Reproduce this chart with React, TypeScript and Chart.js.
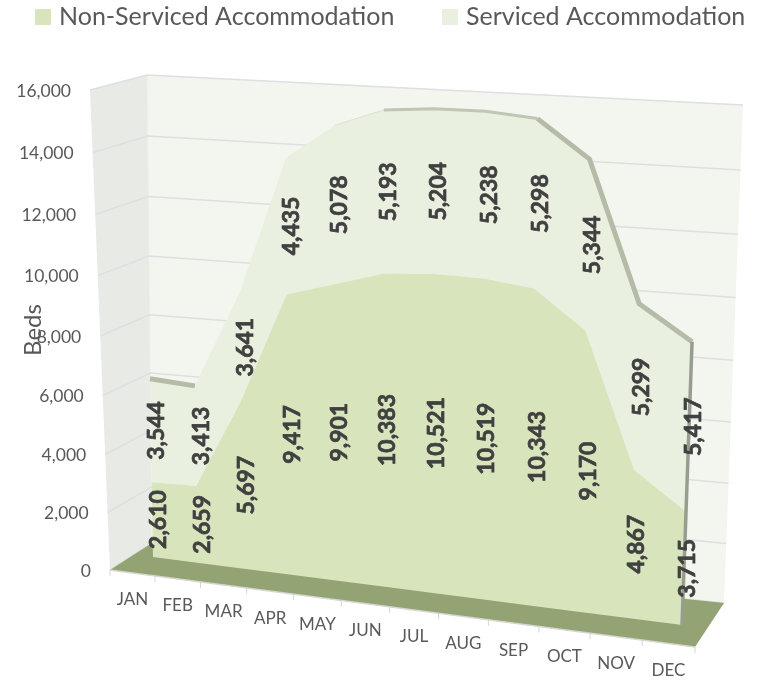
import React, { useEffect, useRef } from "react";
import { Chart, registerables } from "chart.js";

Chart.register(...registerables);

const months = ["JAN", "FEB", "MAR", "APR", "MAY", "JUN", "JUL", "AUG", "SEP", "OCT", "NOV", "DEC"];
const nonServiced = [2610, 2659, 5697, 9417, 9901, 10383, 10521, 10519, 10343, 9170, 4867, 3715];
const serviced = [3544, 3413, 3641, 4435, 5078, 5193, 5204, 5238, 5298, 5344, 5299, 5417];
const yMax = 16000;
const yStep = 2000;
const axisTitle = "Beds";

type P = [number, number];

// square -> quad projective map; corners: (0,0),(1,0),(1,1),(0,1)
function homography(q: P[]) {
  const [[x0, y0], [x1, y1], [x2, y2], [x3, y3]] = q;
  const dx1 = x1 - x2, dx2 = x3 - x2, sx = x0 - x1 + x2 - x3;
  const dy1 = y1 - y2, dy2 = y3 - y2, sy = y0 - y1 + y2 - y3;
  const den = dx1 * dy2 - dx2 * dy1;
  const g = (sx * dy2 - dx2 * sy) / den;
  const h = (dx1 * sy - sx * dy1) / den;
  const a = x1 - x0 + g * x1, b = x3 - x0 + h * x3;
  const d = y1 - y0 + g * y1, e = y3 - y0 + h * y3;
  return (u: number, v: number): P => {
    const w = g * u + h * v + 1;
    return [(a * u + b * v + x0) / w, (d * u + e * v + y0) / w];
  };
}

// wall map: interpolate the corners, with a slight vertical foreshortening
function wall(q: P[]) {
  const [a, b, c, d] = q;
  return (u: number, v0: number): P => {
    const v = v0 * (0.95 + 0.05 * v0);
    const bot: P = [a[0] + (b[0] - a[0]) * u, a[1] + (b[1] - a[1]) * u];
    const top: P = [d[0] + (c[0] - d[0]) * u, d[1] + (c[1] - d[1]) * u];
    return [bot[0] + (top[0] - bot[0]) * v, bot[1] + (top[1] - bot[1]) * v];
  };
}

const dataQuad = homography([[153, 557], [682, 625], [700, 118], [145, 80]]);
const dataPlane = (u: number, v: number): P => dataQuad(u * (0.97 + 0.03 * u), v);
const leftWall = wall([[110, 570], [152, 543], [147, 75], [90, 90]]);
const backWall = wall([[152, 543], [724, 603], [743, 105], [147, 75]]);
const frontEdge = homography([[110, 570], [695, 647], [715, 125], [90, 90]]);

const TEXT = "#595959";
const FONT = "Lato";

function poly(ctx: CanvasRenderingContext2D, pts: P[], fill: string) {
  ctx.beginPath();
  pts.forEach((p, i) => (i ? ctx.lineTo(p[0], p[1]) : ctx.moveTo(p[0], p[1])));
  ctx.closePath();
  ctx.fillStyle = fill;
  ctx.fill();
}
function seg(ctx: CanvasRenderingContext2D, pts: P[], color: string, w: number) {
  ctx.beginPath();
  pts.forEach((p, i) => (i ? ctx.lineTo(p[0], p[1]) : ctx.moveTo(p[0], p[1])));
  ctx.strokeStyle = color;
  ctx.lineWidth = w;
  ctx.stroke();
}

const perspective = {
  id: "perspective",
  afterDatasetsUpdate(chart: any) {
    const { x, y } = chart.scales;
    chart.data.datasets.forEach((_: any, i: number) => {
      chart.getDatasetMeta(i).data.forEach((pt: any) => {
        const u = (pt.x - x.left) / x.width;
        const v = (y.bottom - pt.y) / y.height;
        const [sx, sy] = dataPlane(u, v);
        pt.x = sx;
        pt.y = sy;
      });
    });
  },
  beforeDatasetsDraw(chart: any) {
    const ctx: CanvasRenderingContext2D = chart.ctx;
    const { x, y } = chart.scales;
    ctx.save();
    // legend
    const legendX = [35, 442];
    ctx.font = `25px ${FONT}`;
    ctx.textBaseline = "middle";
    ctx.textAlign = "left";
    chart.data.datasets.forEach((ds: any, i: number) => {
      ctx.fillStyle = ds.backgroundColor;
      ctx.fillRect(legendX[i], 9, 16, 16);
      ctx.fillStyle = TEXT;
      ctx.fillText(ds.label, legendX[i] + 24, 17);
    });
    // walls
    poly(ctx, [leftWall(0, 0), leftWall(1, 0), leftWall(1, 1), leftWall(0, 1)], "#E8EAE5");
    poly(ctx, [backWall(0, 0), backWall(1, 0), backWall(1, 1), backWall(0, 1)], "#F3F6EE");
    seg(ctx, [leftWall(1, 0), leftWall(1, 1)], "#EDEEEA", 1);
    // gridlines + y tick labels
    ctx.font = `17.5px ${FONT}`;
    ctx.textAlign = "right";
    y.ticks.forEach((t: any) => {
      const v = t.value / yMax;
      seg(ctx, [leftWall(0, v), leftWall(1, v), backWall(1, v)], "#DEDFE0", 1.5);
      const [lx, ly] = leftWall(0, v);
      ctx.fillStyle = TEXT;
      ctx.fillText(t.label, lx - 19, ly + 1);
    });
    // floor
    poly(ctx, [frontEdge(0, 0), backWall(0, 0), backWall(1, 0), frontEdge(1, 0)], "#94A374");
    seg(ctx, [frontEdge(0, 0), frontEdge(1, 0)], "#D4D6D0", 1.5);
    // x ticks and labels
    const n = months.length;
    ctx.font = `17px ${FONT}`;
    ctx.textAlign = "center";
    for (let i = 0; i <= n; i++) {
      const [tx, ty] = frontEdge(i / n, 0);
      seg(ctx, [[tx, ty], [tx, ty + 6]], "#D4D6D0", 1);
    }
    x.ticks.forEach((t: any, i: number) => {
      const [lx, ly] = frontEdge((i + 0.5) / n, 0);
      ctx.fillStyle = TEXT;
      ctx.fillText(t.label, lx, ly + 27);
    });
    // axis title
    ctx.save();
    ctx.translate(33, 330);
    ctx.rotate(-Math.PI / 2);
    ctx.font = `24px ${FONT}`;
    ctx.fillStyle = TEXT;
    ctx.fillText(axisTitle, 0, 0);
    ctx.restore();
    // stacked areas, top band first
    const low = chart.getDatasetMeta(0).data;
    const high = chart.getDatasetMeta(1).data;
    const base: P[] = low.map((_: any, i: number) =>
      dataPlane((x.getPixelForValue(i) - x.left) / x.width, (y.bottom - y.getPixelForValue(0)) / y.height)
    );
    const pts = (a: any[]): P[] => a.map((p) => [p.x, p.y] as P);
    poly(ctx, [...pts(high), ...pts(low).reverse()], chart.data.datasets[1].backgroundColor);
    poly(ctx, [...pts(low), ...base.slice().reverse()], chart.data.datasets[0].backgroundColor);
    ctx.restore();
  },
  afterDatasetsDraw(chart: any) {
    const ctx: CanvasRenderingContext2D = chart.ctx;
    const { x, y } = chart.scales;
    const low = chart.getDatasetMeta(0).data;
    const high = chart.getDatasetMeta(1).data;
    const last = high.length - 1;
    ctx.save();
    const dec = dataPlane(1, (y.bottom - y.getPixelForValue(0)) / y.height);
    seg(ctx, [[high[last].x, high[last].y], dec], "#989D91", 3.5);
    ctx.font = `bold 23px ${FONT}`;
    ctx.fillStyle = "#404040";
    ctx.strokeStyle = "#404040";
    ctx.lineWidth = 0.7;
    ctx.textAlign = "center";
    ctx.textBaseline = "middle";
    const fmt = (n: number) => n.toLocaleString("en-US");
    const label = (text: string, px: number, py: number) => {
      ctx.save();
      ctx.translate(px, py);
      ctx.rotate(-Math.PI / 2);
      ctx.fillText(text, 0, 0);
      ctx.strokeText(text, 0, 0);
      ctx.restore();
    };
    low.forEach((p: any, i: number) => {
      const u = (x.getPixelForValue(i) - x.left) / x.width;
      const dx = 7 - 5 * u;
      const [, by] = dataPlane(u, (y.bottom - y.getPixelForValue(0)) / y.height);
      label(fmt(nonServiced[i]), p.x + dx, (p.y + by) / 2);
      label(fmt(serviced[i]), high[i].x + dx, (high[i].y + p.y) / 2);
    });
    ctx.restore();
  },
};

const edgeColor = (i: number) =>
  i === 0 || i >= 8 ? "#B4BCA7" : i >= 5 ? "#BFC6B4" : i === 4 ? "#DDE2D3" : "rgba(0,0,0,0)";
const edgeWidth = (i: number) => (i === 0 || i >= 8 ? 5 : i >= 5 ? 3 : 1);

export default function App() {
  const ref = useRef<HTMLCanvasElement>(null);
  useEffect(() => {
    const chart = new Chart(ref.current as HTMLCanvasElement, {
      type: "line",
      data: {
        labels: months,
        datasets: [
          {
            label: "Non-Serviced Accommodation",
            data: nonServiced,
            backgroundColor: "#D8E5BC",
            borderWidth: 0,
            pointRadius: 0,
            fill: false,
            clip: false,
          },
          {
            label: "Serviced Accommodation",
            data: serviced,
            backgroundColor: "#EAF0DF",
            borderColor: "rgba(0,0,0,0)",
            borderWidth: 5,
            pointRadius: 0,
            fill: false,
            clip: false,
            segment: {
              borderColor: (c: any) => edgeColor(c.p0DataIndex),
              borderWidth: (c: any) => edgeWidth(c.p0DataIndex),
            },
          },
        ] as any,
      },
      options: {
        animation: false,
        responsive: false,
        layout: { padding: 0 },
        plugins: { legend: { display: false }, tooltip: { enabled: false } },
        scales: {
          x: { type: "category", display: false, offset: false },
          y: {
            display: false,
            stacked: true,
            min: 0,
            max: yMax,
            ticks: { stepSize: yStep, callback: (v: any) => Number(v).toLocaleString("en-US") },
          },
        },
      },
      plugins: [perspective],
    } as any);
    return () => chart.destroy();
  }, []);
  return (
    <div style={{ position: "fixed", left: 0, top: 0 }}>
      <canvas ref={ref} width={757} height={680} style={{ display: "block" }} />
    </div>
  );
}
